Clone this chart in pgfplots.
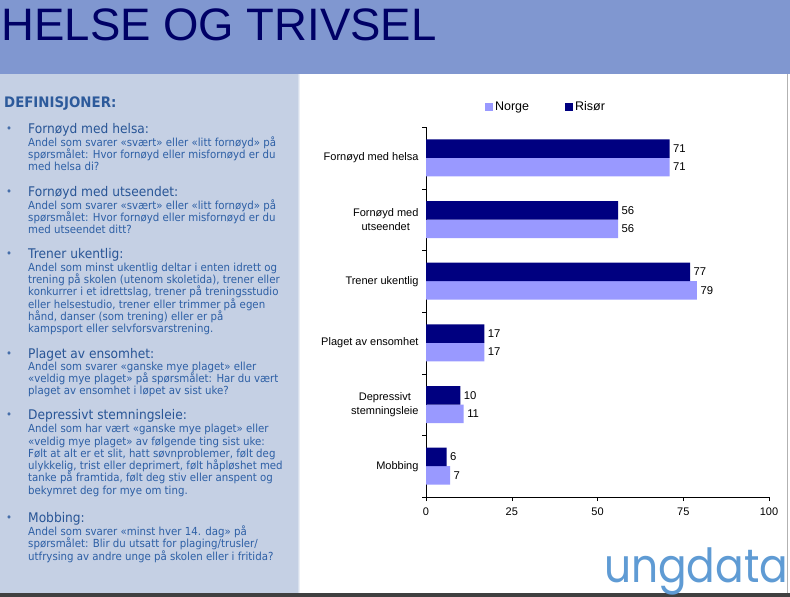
\documentclass[border=0pt]{standalone}
\usepackage{fontspec}
\usepackage{pgfplots}
\pgfplotsset{compat=1.18}
\setmainfont{Liberation Sans}
\newfontfamily\tah[FakeStretch=0.92]{DejaVu Sans}
\newfontfamily\logofont[FakeStretch=0.9]{Poppins}
\definecolor{headerbg}{RGB}{128,151,208}
\definecolor{panelbg}{RGB}{197,208,228}
\definecolor{titlecol}{RGB}{0,0,102}
\definecolor{defcol}{RGB}{45,90,155}
\definecolor{headcol}{RGB}{40,85,150}
\definecolor{bodycol}{RGB}{45,95,165}
\definecolor{bulcol}{RGB}{70,110,170}
\definecolor{risor}{RGB}{0,0,128}
\definecolor{norge}{RGB}{153,153,255}
\definecolor{logocol}{RGB}{95,155,212}
\newcommand\bl[2]{\node[anchor=base west,inner sep=0,text=bodycol,font=\tah\fontsize{11.1}{12}\selectfont] at (28,#1) {#2};}
\newcommand\hd[2]{\node[anchor=base west,inner sep=0,text=headcol,font=\tah\fontsize{13.3}{15}\selectfont] at (28,#1) {#2};
  \node[anchor=base,inner sep=0,text=bulcol,font=\tah\fontsize{11}{13}\selectfont] at (9,#1-1) {•};}
\begin{document}
\begin{tikzpicture}
\begin{scope}[x=1pt,y=-1pt]
\path[use as bounding box] (0,0) rectangle (790,597);
\fill[white] (0,0) rectangle (790,597);
\fill[headerbg] (0,0) rectangle (790,74);
\fill[panelbg] (0,74) rectangle (298,593);
\shade[left color=panelbg,right color=white] (297,74) rectangle (300,593);
\fill[black!75] (0,593) rectangle (790,597);
\draw[black!30,line width=1pt] (787,74) -- (787,593);
\node[anchor=base west,inner sep=0,text=titlecol,font=\fontsize{45.5}{50}\selectfont] at (1.5,40) {HELSE OG TRIVSEL};
\node[anchor=base west,inner sep=0,text=defcol,font=\tah\bfseries\fontsize{14.5}{16}\selectfont] at (4,107) {DEFINISJONER:};
\hd{133.5}{Fornøyd med helsa:}
\bl{146}{Andel som svarer «svært» eller «litt fornøyd» på}
\bl{158.2}{spørsmålet: Hvor fornøyd eller misfornøyd er du}
\bl{170.4}{med helsa di?}
\hd{196.5}{Fornøyd med utseendet:}
\bl{209}{Andel som svarer «svært» eller «litt fornøyd» på}
\bl{221.2}{spørsmålet: Hvor fornøyd eller misfornøyd er du}
\bl{233.4}{med utseendet ditt?}
\hd{258}{Trener ukentlig:}
\bl{271}{Andel som minst ukentlig deltar i enten idrett og}
\bl{283.4}{trening på skolen (utenom skoletida), trener eller}
\bl{295.8}{konkurrer i et idrettslag, trener på treningsstudio}
\bl{308.2}{eller helsestudio, trener eller trimmer på egen}
\bl{320.5}{hånd, danser (som trening) eller er på}
\bl{332.8}{kampsport eller selvforsvarstrening.}
\hd{358}{Plaget av ensomhet:}
\bl{370}{Andel som svarer «ganske mye plaget» eller}
\bl{382.4}{«veldig mye plaget» på spørsmålet: Har du vært}
\bl{394.6}{plaget av ensomhet i løpet av sist uke?}
\hd{419.5}{Depressivt stemningsleie:}
\bl{432.7}{Andel som har vært «ganske mye plaget» eller}
\bl{445}{«veldig mye plaget» av følgende ting sist uke:}
\bl{457.2}{Følt at alt er et slit, hatt søvnproblemer, følt deg}
\bl{469.5}{ulykkelig, trist eller deprimert, følt håpløshet med}
\bl{481.8}{tanke på framtida, følt deg stiv eller anspent og}
\bl{494}{bekymret deg for mye om ting.}
\hd{522.5}{Mobbing:}
\bl{535.5}{Andel som svarer «minst hver 14. dag» på}
\bl{547.8}{spørsmålet: Blir du utsatt for plaging/trusler/}
\bl{560}{utfrysing av andre unge på skolen eller i fritida?}
\node[anchor=base west,inner sep=0,text=logocol,font=\logofont\fontsize{47}{50}\selectfont] at (604,582) {ungdata};
\end{scope}
\begin{axis}[
  at={(426pt,-497pt)}, anchor=south west,
  scale only axis, width=343pt, height=370pt,
  xbar, bar width=18.5pt,
  xmin=0, xmax=100, ymin=-0.5, ymax=5.5, y dir=reverse,
  axis x line*=bottom, axis y line*=left, axis line style={-,black},
  xtick={0,25,50,75,100},
  ytick={0,1,2,3,4,5},
  yticklabels={Fornøyd med helsa,{Fornøyd med\\utseendet},Trener ukentlig,Plaget av ensomhet,{Depressivt\\stemningsleie},Mobbing},
  yticklabel style={align=center,font=\fontsize{11}{14}\selectfont},
  xticklabel style={font=\fontsize{11}{13}\selectfont,yshift=-3pt},
  ytick style={draw=none},
  xtick style={black},
  major tick length=4pt, tick align=outside,
  extra y ticks={-0.5,0.5,1.5,2.5,3.5,4.5,5.5},
  extra y tick labels={},
  extra y tick style={ytick style={draw=black}},
  /pgf/number format/assume math mode=true,
  nodes near coords,
  nodes near coords style={font=\fontsize{11.3}{13}\selectfont,black},
  legend style={at={(0.35,1)},anchor=south,yshift=11pt,draw=none,fill=none,
    legend columns=2,font=\fontsize{12.5}{14}\selectfont,
    /tikz/every even column/.append style={column sep=34pt}},
  legend image code/.code={\fill[#1] (0pt,-4pt) rectangle (8pt,4pt);},
]
\addplot[fill=norge,draw=none,bar shift=-9.25pt] coordinates {(71,0) (56,1) (79,2) (17,3) (11,4) (7,5)};
\addplot[fill=risor,draw=none,bar shift=9.25pt] coordinates {(71,0) (56,1) (77,2) (17,3) (10,4) (6,5)};
\legend{Norge,Risør}
\end{axis}
\end{tikzpicture}
\end{document}
